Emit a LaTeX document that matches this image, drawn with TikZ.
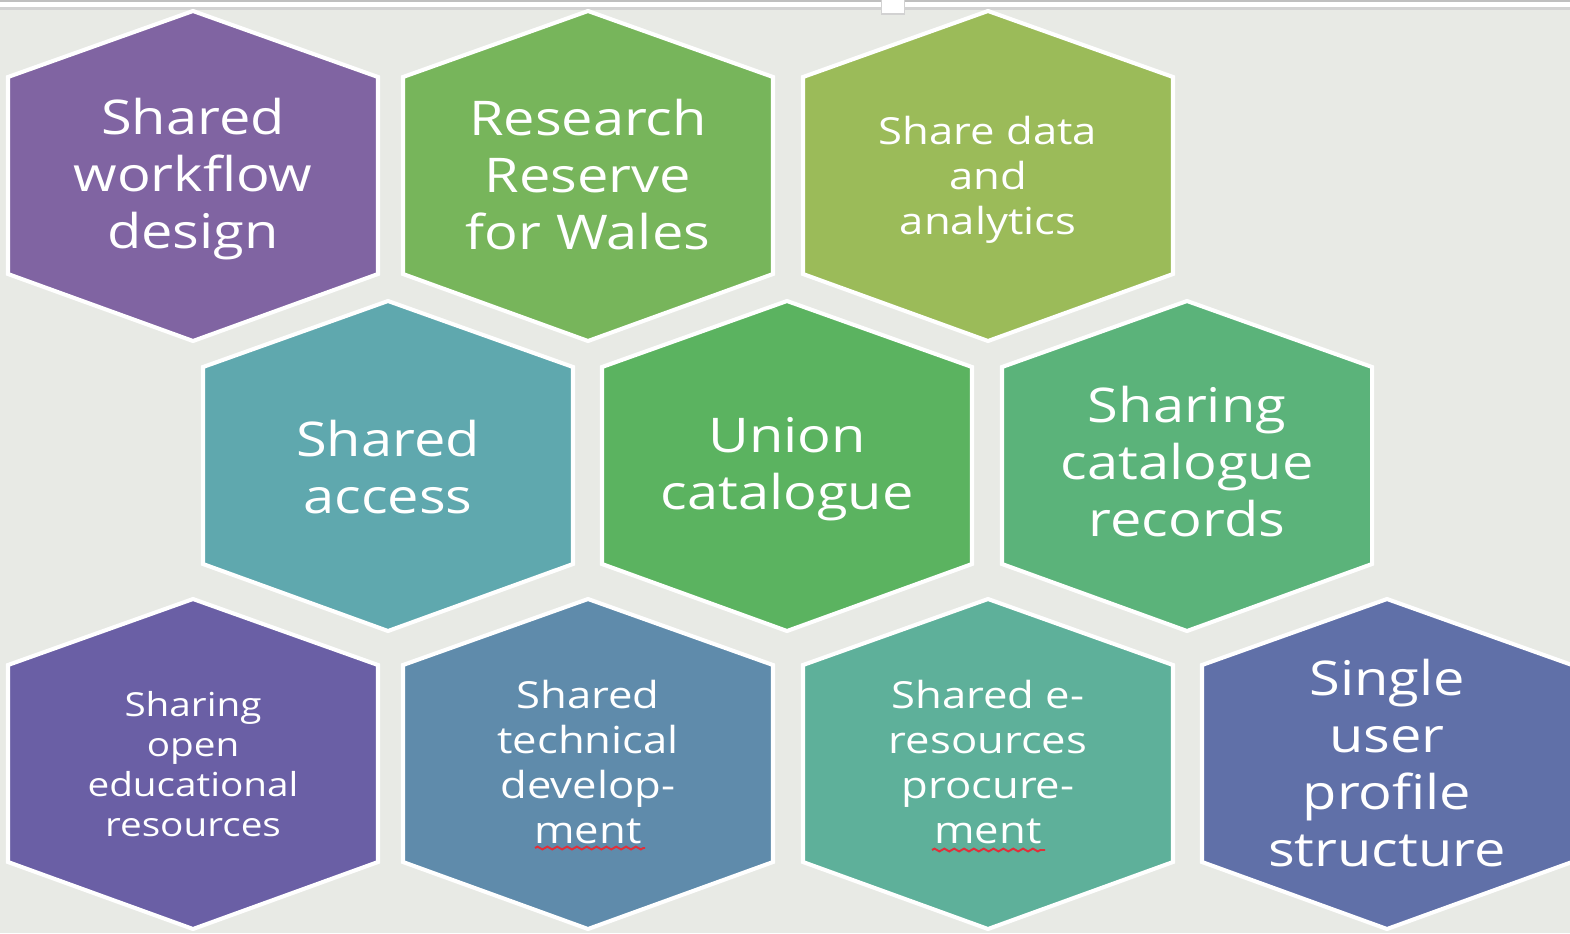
\documentclass[tikz,border=0pt]{standalone}
\usepackage{fontspec}
\setmainfont[FakeStretch=1.17]{Open Sans}
\usetikzlibrary{decorations.pathmorphing}

\definecolor{paper}{HTML}{E8EAE5}
\definecolor{rulegray}{HTML}{BFBFBF}
\definecolor{rulelight}{HTML}{D2D2D2}
\definecolor{workflowpurple}{HTML}{8064A2}
\definecolor{reservegreen}{HTML}{77B55B}
\definecolor{analyticsolive}{HTML}{9BBB59}
\definecolor{accessteal}{HTML}{5FA8AE}
\definecolor{uniongreen}{HTML}{5BB360}
\definecolor{recordsgreen}{HTML}{5BB37A}
\definecolor{oerpurple}{HTML}{6A5FA5}
\definecolor{techblue}{HTML}{5F8BAB}
\definecolor{procuresea}{HTML}{5EB09A}
\definecolor{profileblue}{HTML}{6070A8}
\definecolor{spellred}{HTML}{E0303A}

\tikzset{
  cell/.style={draw=white, line width=1.15pt, line join=miter},
  bigtext/.style={text=white, align=center, inner sep=0pt, font=\fontsize{13.6}{16.2}\selectfont},
  midtext/.style={text=white, align=center, inner sep=0pt, font=\fontsize{10.6}{12.8}\selectfont},
  smalltext/.style={text=white, align=center, inner sep=0pt, font=\fontsize{9.4}{11.4}\selectfont},
  spell/.style={draw=spellred, line width=0.55pt, decorate,
    decoration={zigzag, amplitude=0.4pt, segment length=2.8pt}}
}

\begin{document}
\begin{tikzpicture}[x=0.01cm, y=-0.01cm]
    % Page and the two rules along the top
        \useasboundingbox (0,0) rectangle (1570,933);
        \fill[paper] (0,0) rectangle (1570,933);
        \fill[rulegray] (0,0) rectangle (1570,2);
        \fill[white] (0,2) rectangle (1570,7);
        \fill[rulelight] (0,7) rectangle (1570,9.5);
        \fill[rulelight] (881,0) rectangle (905,15);
        \fill[white] (882,0) rectangle (904,12.5);
        % Top row of hexagons
        \draw[cell, fill=workflowpurple, shift={(193,176)}] (0,-165) -- (185,-99) -- (185,98) -- (0,165) -- (-185,98) -- (-185,-99) -- cycle;
        \draw[cell, fill=reservegreen, shift={(588,176)}] (0,-165) -- (185,-99) -- (185,98) -- (0,165) -- (-185,98) -- (-185,-99) -- cycle;
        \draw[cell, fill=analyticsolive, shift={(988,176)}] (0,-165) -- (185,-99) -- (185,98) -- (0,165) -- (-185,98) -- (-185,-99) -- cycle;
        % Middle row
        \draw[cell, fill=accessteal, shift={(388,466)}] (0,-165) -- (185,-99) -- (185,98) -- (0,165) -- (-185,98) -- (-185,-99) -- cycle;
        \draw[cell, fill=uniongreen, shift={(787,466)}] (0,-165) -- (185,-99) -- (185,98) -- (0,165) -- (-185,98) -- (-185,-99) -- cycle;
        \draw[cell, fill=recordsgreen, shift={(1187,466)}] (0,-165) -- (185,-99) -- (185,98) -- (0,165) -- (-185,98) -- (-185,-99) -- cycle;
        % Bottom row
        \draw[cell, fill=oerpurple, shift={(193,764)}] (0,-165) -- (185,-99) -- (185,98) -- (0,165) -- (-185,98) -- (-185,-99) -- cycle;
        \draw[cell, fill=techblue, shift={(588,764)}] (0,-165) -- (185,-99) -- (185,98) -- (0,165) -- (-185,98) -- (-185,-99) -- cycle;
        \draw[cell, fill=procuresea, shift={(988,764)}] (0,-165) -- (185,-99) -- (185,98) -- (0,165) -- (-185,98) -- (-185,-99) -- cycle;
        \draw[cell, fill=profileblue, shift={(1387,764)}] (0,-165) -- (185,-99) -- (185,98) -- (0,165) -- (-185,98) -- (-185,-99) -- cycle;
        % Labels
        \node[bigtext] (workflow) at (193,179) {Shared\\workflow\\design};
        \node[bigtext] (reserve) at (588,175) {Research\\Reserve\\for Wales};
        \node[midtext] (analytics) at (988,180) {Share data\\and\\analytics};
        \node[bigtext] (access) at (388,467) {Shared\\access};
        \node[bigtext] (union) at (787,469) {Union\\catalogue};
        \node[bigtext] (records) at (1187,462) {Sharing\\catalogue\\records};
        \node[smalltext] (oer) at (193,764) {Sharing\\open\\educational\\resources};
        \node[midtext] (techdev) at (588,762) {Shared\\technical\\develop-\\ment};
        \node[midtext] (procure) at (988,762) {Shared e-\\resources\\procure-\\ment};
        \node[bigtext] (profile) at (1387,763) {Single\\user\\profile\\structure};
        % Spell-check marks under "ment"
        \draw[spell] (535,848) -- (645,848);
        \draw[spell] (932,850) -- (1045,850);
\end{tikzpicture}
\end{document}
